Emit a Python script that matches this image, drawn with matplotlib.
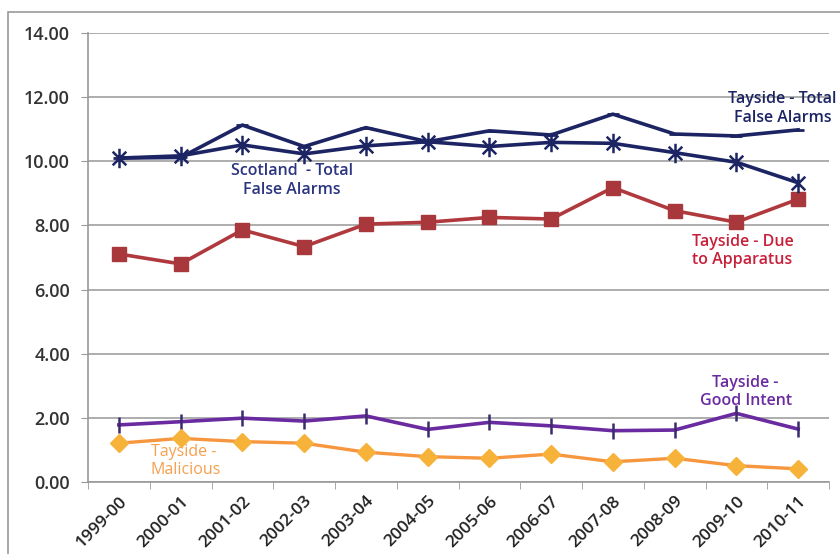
import matplotlib
matplotlib.use('Agg')
import matplotlib.pyplot as plt
from matplotlib.patches import Rectangle
from matplotlib.path import Path

years = ['1999-00', '2000-01', '2001-02', '2002-03', '2003-04', '2004-05',
         '2005-06', '2006-07', '2007-08', '2008-09', '2009-10', '2010-11']
taysideTotal = [10.10, 10.12, 11.13, 10.46, 11.05, 10.61, 10.95, 10.82, 11.47, 10.85, 10.79, 10.98]
scotlandTotal = [10.10, 10.17, 10.51, 10.23, 10.48, 10.61, 10.46, 10.59, 10.56, 10.27, 9.97, 9.33]
apparatus = [7.11, 6.80, 7.86, 7.34, 8.04, 8.10, 8.25, 8.20, 9.18, 8.46, 8.10, 8.82]
goodIntent = [1.78, 1.88, 1.99, 1.90, 2.06, 1.64, 1.86, 1.75, 1.60, 1.62, 2.14, 1.65]
malicious = [1.21, 1.36, 1.26, 1.21, 0.93, 0.79, 0.74, 0.87, 0.63, 0.74, 0.51, 0.41]
yTicks = [0, 2, 4, 6, 8, 10, 12, 14]

plt.rcParams['font.family'] = ['Open Sans', 'DejaVu Sans']

# excel style star: an X with a vertical bar through it
starMarker = Path([(-0.7, -0.7), (0.7, 0.7), (-0.7, 0.7), (0.7, -0.7), (0, -1), (0, 1)],
    [Path.MOVETO, Path.LINETO, Path.MOVETO, Path.LINETO, Path.MOVETO, Path.LINETO])

fig = plt.figure(figsize=(8.4, 5.54), dpi=100)
ax = fig.add_axes([88/840, 1 - 482/554, (829 - 88)/840, (482 - 33)/554])

# outer chart frame
fig.patches.append(Rectangle((8/840, -0.05), 1.0, 1 - 12/554 + 0.05, transform=fig.transFigure,
    fill=False, edgecolor='#9a9a9a', linewidth=1.2))

x = list(range(len(years)))
navy = '#1c2463'
ax.plot(x, taysideTotal, color=navy, linewidth=2.6, marker='_', markersize=8, markeredgewidth=2, zorder=3)
ax.plot(x, scotlandTotal, color=navy, linewidth=2.6, marker=starMarker, markersize=14,
    markeredgewidth=1.8, markeredgecolor=navy, zorder=4)
ax.plot(x, apparatus, color='#b0393e', linewidth=2.6, marker='s', markersize=10,
    markerfacecolor='#a8383c', markeredgecolor='#a8383c', zorder=3)
ax.plot(x, goodIntent, color='#6a2aa0', linewidth=2.6, marker='|', markersize=11,
    markeredgewidth=1.8, markeredgecolor='#3b2a6e', zorder=3)
ax.plot(x, malicious, color='#f6973f', linewidth=2.4, marker='D', markersize=9,
    markerfacecolor='#f7b23a', markeredgecolor='#f7b23a', zorder=3)

ax.set_xlim(-0.5, len(years) - 0.5)
ax.set_ylim(0, 14)
ax.set_yticks(yTicks)
ax.set_yticklabels(['%.2f' % v for v in yTicks], fontsize=13, color='#333333', fontweight='semibold')
ax.set_xticks(x)
ax.set_xticklabels(years, rotation=45, ha='right', rotation_mode='anchor', fontsize=12.5,
    color='#222222', fontweight='semibold')
ax.set_xticks([i - 0.5 for i in range(len(years) + 1)], minor=True)
ax.tick_params(axis='x', which='major', length=0, pad=8)
ax.tick_params(axis='x', which='minor', length=5, color='#999999')
ax.tick_params(axis='y', length=5, color='#999999', pad=8)
ax.grid(axis='y', color='#a0a0a0', linewidth=1.2)
ax.set_axisbelow(True)
for s in ['top', 'right']:
    ax.spines[s].set_visible(False)
for s in ['left', 'bottom']:
    ax.spines[s].set_color('#999999')
    ax.spines[s].set_linewidth(1.2)

ax.text(10.75, 11.65, 'Tayside - Total\nFalse Alarms', color=navy, fontsize=11.5, ha='center',
    va='center', fontweight='semibold', linespacing=1.2)
ax.text(2.8, 9.4, 'Scotland  - Total\nFalse Alarms', color='#2b3580', fontsize=11.5, ha='center',
    va='center', fontweight='semibold', linespacing=1.2)
ax.text(10.1, 7.2, 'Tayside - Due\nto Apparatus', color='#c8203a', fontsize=11.5, ha='center',
    va='center', fontweight='semibold', linespacing=1.2)
ax.text(10.15, 2.8, 'Tayside -\nGood Intent', color='#6a2aa0', fontsize=11.5, ha='center',
    va='center', fontweight='semibold', linespacing=1.2)
ax.text(0.52, 0.66, 'Tayside -\nMalicious', color='#f6a04e', fontsize=11.5, ha='left',
    va='center', linespacing=1.2)

fig.savefig('out.png', dpi=100)
